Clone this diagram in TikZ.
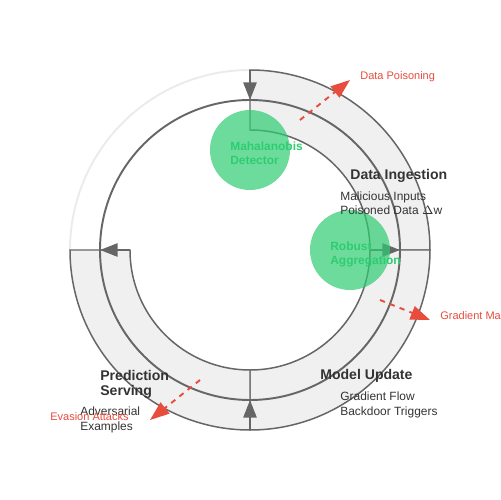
\documentclass[tikz,border=0pt]{standalone}
\usepackage{fontspec}
\setmainfont{Liberation Sans}
\usetikzlibrary{arrows.meta}
\definecolor{Gr}{HTML}{666666}
\definecolor{Lg}{HTML}{F0F0F0}
\definecolor{Fa}{HTML}{EBEBEB}
\definecolor{R}{HTML}{E74C3C}
\definecolor{G}{HTML}{2ECC71}
\definecolor{T}{HTML}{333333}

\begin{document}
\begin{tikzpicture}[x=0.02cm, y=0.02cm,
  ring/.style={fill=Lg, draw=Gr, line width=0.85pt},
  flow/.style={draw=Gr, line width=1.1pt, -{Triangle[length=10pt,width=7.5pt]}},
  attack/.style={draw=R, line width=1.1pt, dash pattern=on 3pt off 3pt, -{Triangle[length=11pt,width=8pt]}},
  shield/.style={circle, fill=G, opacity=0.7, minimum size=1.6cm, inner sep=0pt},
  shieldtext/.style={anchor=base west, inner sep=0pt, align=left, text=G, font=\bfseries\fontsize{6.8}{8.2}\selectfont},
  stage/.style={anchor=base west, inner sep=0pt, align=left, text=T, font=\bfseries\fontsize{8}{8.5}\selectfont},
  note/.style={anchor=base west, inner sep=0pt, align=left, text=T, font=\fontsize{6.8}{8.5}\selectfont},
  threat/.style={anchor=base west, inner sep=0pt, text=R, font=\fontsize{6.26}{7.5}\selectfont}]
  \useasboundingbox (-250,-250) rectangle (250,250);
  % ring of stages
  \draw[Fa, line width=1.1pt] (-180,0) arc (180:90:180);
  \draw[ring] (0,180) arc (90:0:180) -- (120,0) arc (0:90:120) -- cycle;
  \draw[ring] (180,0) arc (0:-90:180) -- (0,-120) arc (-90:0:120) -- cycle;
  \draw[ring] (0,-180) arc (-90:-180:180) -- (-120,0) arc (180:270:120) -- cycle;
  \draw[Gr, line width=1.1pt] (0,0) circle (150);
  % flow arrows
  \coordinate (topout) at (0,180);    \coordinate (topmid) at (0,150);
  \coordinate (rightin) at (120,0);   \coordinate (rightmid) at (150,0);
  \coordinate (botout) at (0,-180);   \coordinate (botmid) at (0,-150);
  \coordinate (leftin) at (-120,0);   \coordinate (leftmid) at (-150,0);
  \draw[flow] (topout) -- (topmid);
  \draw[flow] (rightin) -- (rightmid);
  \draw[flow] (botout) -- (botmid);
  \draw[flow] (leftin) -- (leftmid);
  % defences (base = last line)
  \node[shield] (maha) at (0,100) {};
  \node[shield] (robust) at (100,0) {};
  \node[shieldtext] (mahatext) at (-20,85) {Mahalanobis\\Detector};
  \node[shieldtext] (robusttext) at (80,-15) {Robust\\Aggregation};
  % stages
  \node[stage] (ingest) at (100,70) {Data Ingestion};
  \node[note] (ingestnote) at (90,35) {Malicious Inputs\\Poisoned Data $\Delta$w};
  \node[stage] (update) at (70,-130) {Model Update};
  \node[note] (updatenote) at (90,-165) {Gradient Flow\\Backdoor Triggers};
  \node[stage] (serve) at (-150,-145) {Prediction\\Serving};
  \node[note] (servenote) at (-170,-180) {Adversarial\\Examples};
  % attacks
  \coordinate (poisonA) at (50,130);   \coordinate (poisonB) at (100,170);
  \coordinate (gradA) at (130,-50);    \coordinate (gradB) at (180,-70);
  \coordinate (evadeA) at (-50,-130);  \coordinate (evadeB) at (-100,-170);
  \draw[attack] (poisonA) -- (poisonB);
  \draw[attack] (gradA) -- (gradB);
  \draw[attack] (evadeA) -- (evadeB);
  \node[threat] (poison) at (110,170) {Data Poisoning};
  \node[threat] (grad) at (190,-70) {Gradient Ma};
  \node[threat] (evade) at (-200,-170) {Evasion Attacks};
\end{tikzpicture}
\end{document}
